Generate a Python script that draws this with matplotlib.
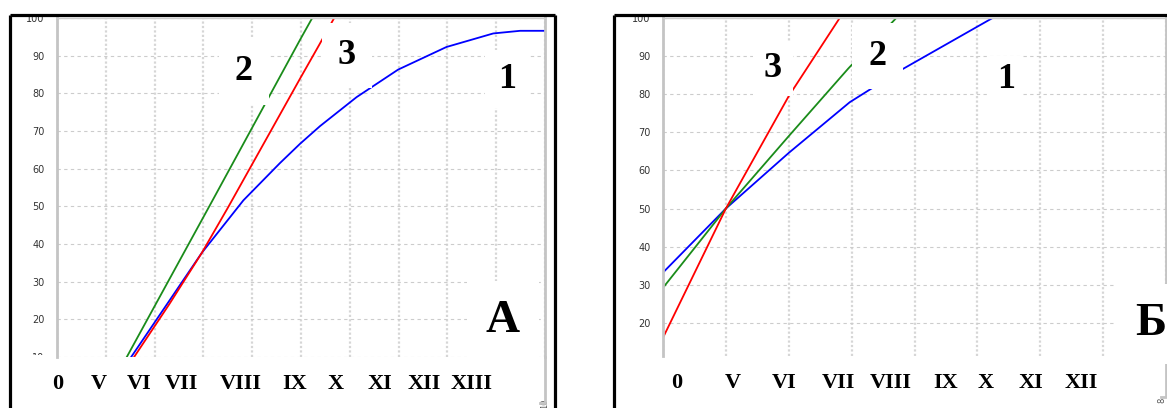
import matplotlib
matplotlib.use("Agg")
import matplotlib.pyplot as plt
from matplotlib.lines import Line2D
from matplotlib.transforms import Bbox, TransformedBbox

# ---- data ----
# panel A
a_blue_x = [1.52, 2.97, 3.82, 4.57, 4.98, 5.39, 6.14, 6.99, 7.98, 8.94, 9.49, 10.0]
a_blue_y = [10, 37.7, 51.6, 61.5, 66.6, 71.3, 79.0, 86.3, 92.3, 95.9, 96.6, 96.6]
a_green_x = [1.43, 3.18, 4.98, 5.23]
a_green_y = [10, 51.4, 94.2, 100]
a_red_x = [1.58, 2.3, 2.97, 3.5, 4.98, 5.37, 5.68]
a_red_y = [10, 24.0, 37.7, 49.6, 83.9, 92.8, 100]
a_roman = ["0", "V", "VI", "VII", "VIII", "IX", "X", "XI", "XII", "XIII"]
a_roman_pos = [0.02, 0.86, 1.68, 2.56, 3.77, 4.86, 5.70, 6.62, 7.52, 8.50]

# panel B
b_blue_x = [0, 1, 2, 2.97, 3.77, 5.22]
b_blue_y = [33.2, 50, 64.6, 77.9, 86.2, 99.8]
b_green_x = [0, 1, 2, 2.95, 3.71]
b_green_y = [29.2, 50, 69.0, 86.8, 100]
b_red_x = [0, 1, 2, 2.81]
b_red_y = [16.1, 50, 79.5, 100]
b_roman = ["0", "V", "VI", "VII", "VIII", "IX", "X", "XI", "XII"]
b_roman_pos = [0.21, 1.11, 1.92, 2.79, 3.62, 4.49, 5.13, 5.86, 6.65]

y_ticks = [10, 20, 30, 40, 50, 60, 70, 80, 90, 100]

BLUE, GREEN, RED = "#0000ff", "#1a8c1a", "#ff0000"
SERIF = "Liberation Serif"

W, H = 1167, 408
fig = plt.figure(figsize=(W / 100, H / 100), dpi=100)


def px_rect(l, t, r, b):
    return [l / W, 1 - b / H, (r - l) / W, (b - t) / H]


def frame(x0, x1, top):
    # thick black outer frame, open at the bottom
    kw = dict(color="black", lw=2.3, transform=fig.transFigure, solid_capstyle="butt")
    fig.add_artist(Line2D([x0 / W, x0 / W], [-0.05, 1 - top / H], **kw))
    fig.add_artist(Line2D([x0 / W, x1 / W], [1 - top / H, 1 - top / H], **kw))
    if x1 < W:
        fig.add_artist(Line2D([x1 / W, x1 / W], [-0.05, 1 - top / H], **kw))


def setup(ax, xmax, ymin, roman, roman_pos, end_label, stub, end_ha):
    ax.set_xlim(0, xmax)
    ax.set_ylim(ymin, 100)
    ax.set_yticks([t for t in y_ticks if t >= ymin - 0.5])
    ax.set_xticks(range(xmax + 1), [""] * xmax + [end_label], rotation=90, ha=end_ha)
    ax.set_xticks(roman_pos, roman, minor=True)
    ax.tick_params(axis="both", which="both", length=0)
    ax.tick_params(axis="y", labelsize=7, labelcolor="#333333", pad=9)
    ax.tick_params(axis="x", which="major", labelsize=6, labelcolor="#555555", pad=30)
    ax.tick_params(axis="x", which="minor", labelsize=16, pad=12)
    for lbl in ax.get_xticklabels(minor=True):
        lbl.set_fontfamily(SERIF)
        lbl.set_fontweight("bold")
    ax.grid(axis="y", color="#cccccc", lw=0.8, ls=(0, (3, 3)))
    ax.grid(axis="x", which="major", color="#d6d6d6", lw=1.6, ls=(0, (1, 1)))
    ax.set_axisbelow(True)
    for side in ["left", "right"]:
        ax.spines[side].set_color("#c4c4c4")
        ax.spines[side].set_linewidth(2)
    ax.spines["top"].set_color("#cccccc")
    ax.spines["top"].set_linewidth(1)
    ax.spines["bottom"].set_visible(False)
    # right gray line runs on below the plot area
    ax.add_line(Line2D([1, 1, 0.99], [0, -stub, -stub], color="#c4c4c4", lw=2,
                       transform=ax.transAxes, clip_on=False))


def label(ax, x, y, s, size, pad):
    ax.text(x, y, s, fontsize=size, fontweight="bold", family=SERIF,
            ha="center", va="center", zorder=5, clip_on=False,
            bbox=dict(boxstyle="square,pad=%.2f" % pad, fc="white", ec="none"))


# ---- panel A ----
frame(9.7, 554.5, 14.5)
ax_a = fig.add_axes(px_rect(57, 18, 545, 357))
setup(ax_a, 10, 10, a_roman, a_roman_pos, "10", 0.136, "center")
ax_a.plot(a_blue_x, a_blue_y, color=BLUE, lw=1.3, zorder=2)
ax_a.plot(a_green_x, a_green_y, color=GREEN, lw=1.3, zorder=2)
ax_a.plot(a_red_x, a_red_y, color=RED, lw=1.3, zorder=2)
label(ax_a, 3.83, 85.7, "2", 26, 0.45)
label(ax_a, 5.94, 90.0, "3", 26, 0.45)
label(ax_a, 9.22, 83.8, "1", 26, 0.35)
label(ax_a, 9.14, 19.6, "A", 34, 0.4)
# the "10" tick label is half hidden below the plot area
ax_a.figure.canvas.draw()
for lbl in ax_a.get_yticklabels():
    if lbl.get_text() == "10":
        lbl.set_clip_box(TransformedBbox(Bbox([[-1, 0.005], [1, 2]]), ax_a.transAxes))
        lbl.set_clip_on(True)

# ---- panel B ----
frame(613.7, W + 10, 14.5)
ax_b = fig.add_axes(px_rect(663, 18, 1166, 356))
setup(ax_b, 8, 11.3, b_roman, b_roman_pos, "8", 0.12, "right")
ax_b.plot(b_blue_x, b_blue_y, color=BLUE, lw=1.3, zorder=2)
ax_b.plot(b_green_x, b_green_y, color=GREEN, lw=1.3, zorder=2)
ax_b.plot(b_red_x, b_red_y, color=RED, lw=1.3, zorder=2)
label(ax_b, 1.75, 86.8, "3", 26, 0.3)
label(ax_b, 3.41, 90.0, "2", 26, 0.45)
label(ax_b, 5.46, 83.9, "1", 26, 0.2)
label(ax_b, 7.76, 19.6, "Б", 34, 0.4)

fig.savefig("out.png", dpi=100)
